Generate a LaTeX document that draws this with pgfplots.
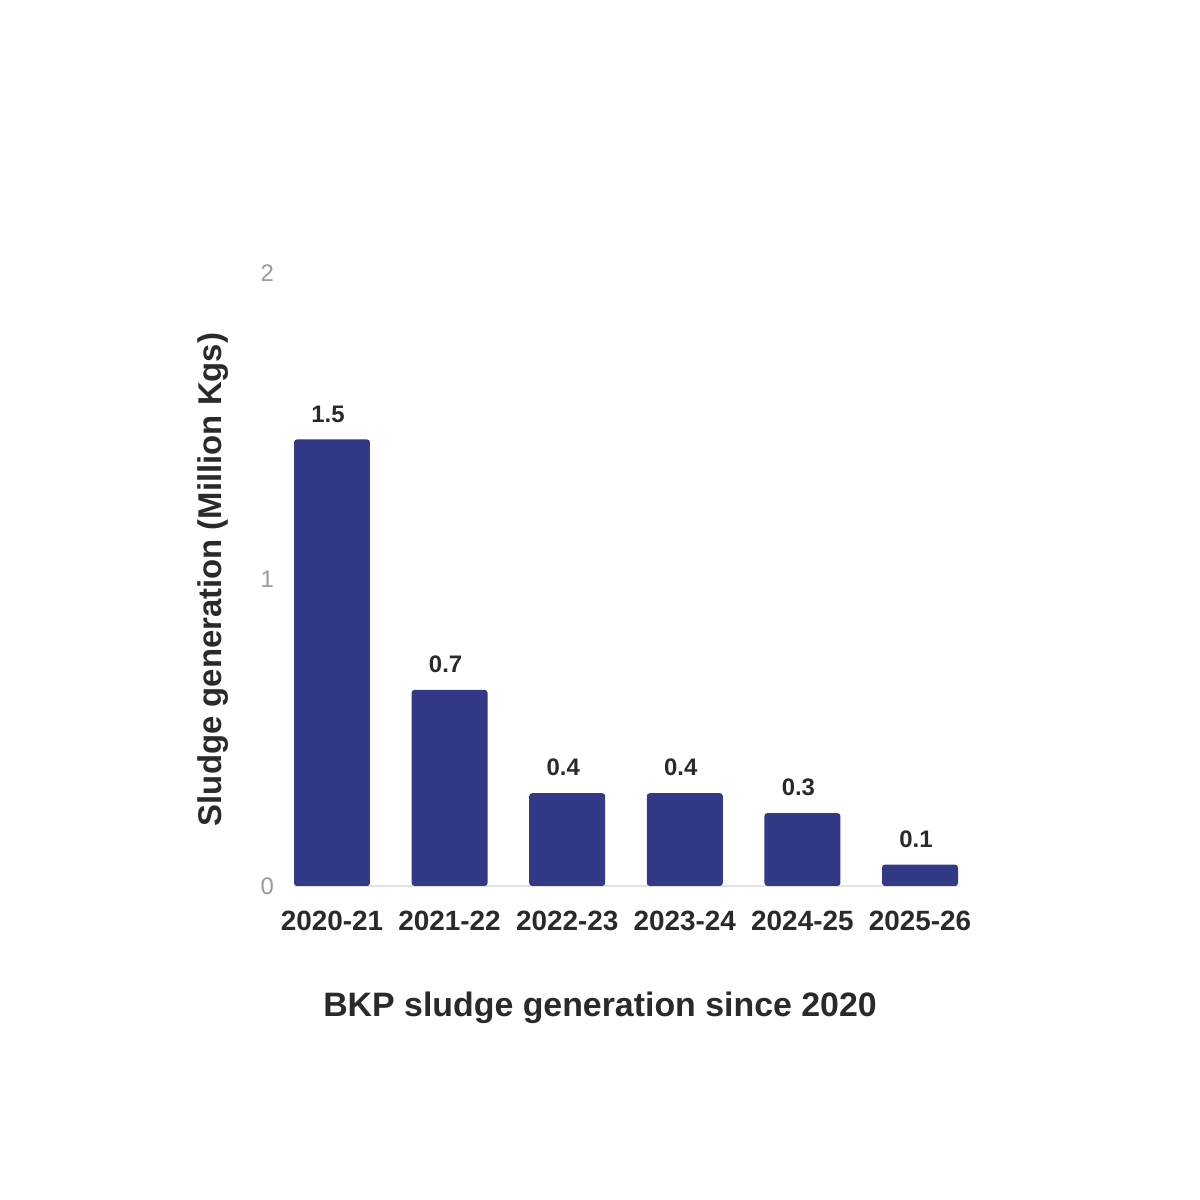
\documentclass[border=0pt]{standalone}
\usepackage{pgfplots}
\pgfplotsset{compat=1.18}
\usepackage{fontspec}
\setmainfont{Liberation Sans}
\definecolor{barblue}{HTML}{323A87}
\definecolor{lbl}{HTML}{2A2A2A}
\definecolor{tickgrey}{HTML}{9A9A9A}
\definecolor{basegrey}{HTML}{E2E2E2}
\begin{document}
\begin{tikzpicture}
\path[use as bounding box] (0,0) rectangle (600bp,600bp);
\begin{axis}[
  at={(147bp,157bp)}, anchor=south west,
  scale only axis, width=332bp, height=306.5bp,
  xmin=-0.323, xmax=5.323, ymin=0, ymax=2,
  axis line style={draw=none},
  axis x line*=bottom, axis y line*=left,
  ytick={0,1,2}, yticklabel style={text=tickgrey, font=\fontsize{12}{12}\selectfont, xshift=-6.5bp},
  /pgf/number format/assume math mode=true,
  xtick={0,1,2,3,4,5},
  xticklabels={2020-21,2021-22,2022-23,2023-24,2024-25,2025-26},
  xticklabel style={text=lbl, font=\bfseries\fontsize{14}{14}\selectfont, yshift=-9bp},
  major tick length=0pt,
  ylabel={Sludge generation (Million Kgs)},
  every axis y label/.style={at={(rel axis cs:0,0.5)}, xshift=-40.5bp, rotate=90, anchor=center},
  ylabel style={font=\bfseries\fontsize{16.5}{16.5}\selectfont, text=lbl},
  clip=false,
  ybar, bar width=0.646,
  point meta=explicit symbolic,
  nodes near coords,
  nodes near coords style={font=\bfseries\fontsize{12}{12}\selectfont, text=lbl, yshift=5bp, xshift=-2bp},
]
\draw[basegrey, line width=1.2bp] (axis cs:-0.323,0) -- (axis cs:5.323,0);
\addplot[fill=barblue, draw=none, rounded corners=1.5bp] table[meta=lab] {
x y lab
0 1.457 1.5
1 0.640 0.7
2 0.303 0.4
3 0.303 0.4
4 0.238 0.3
5 0.070 0.1
};
\end{axis}
\node[font=\bfseries\fontsize{17}{17}\selectfont, text=lbl] at (300bp,96bp) {BKP sludge generation since 2020};
\end{tikzpicture}
\end{document}
